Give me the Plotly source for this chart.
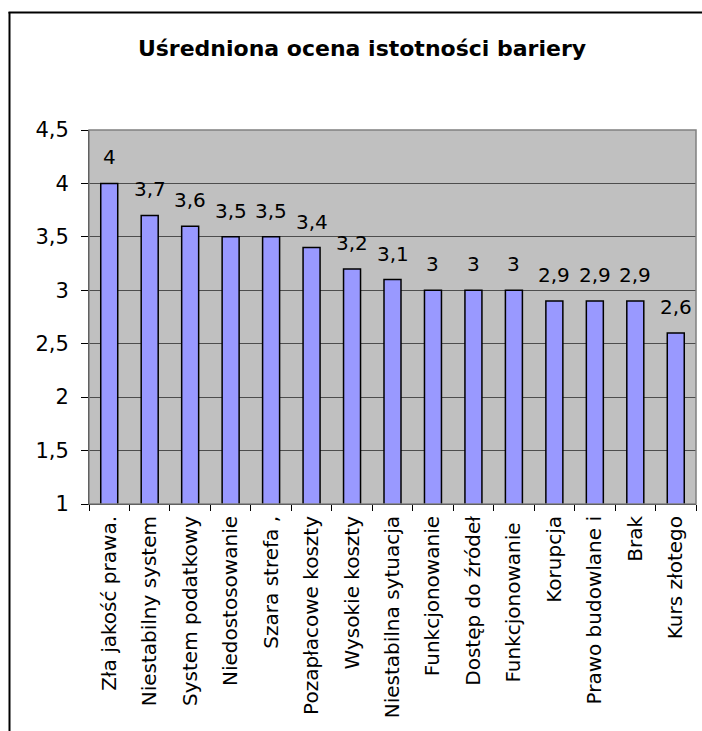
import plotly.graph_objects as go

categories = [
    "Zła jakość prawa.", "Niestabilny system", "System podatkowy", "Niedostosowanie",
    "Szara strefa ,", "Pozapłacowe koszty", "Wysokie koszty", "Niestabilna sytuacja",
    "Funkcjonowanie", "Dostęp do źródeł", "Funkcjonowanie ", "Korupcja",
    "Prawo budowlane i", "Brak", "Kurs złotego",
]
values = [4, 3.7, 3.6, 3.5, 3.5, 3.4, 3.2, 3.1, 3, 3, 3, 2.9, 2.9, 2.9, 2.6]
value_labels = [f"{v:g}".replace(".", ",") for v in values]
title_text = "Uśredniona ocena istotności bariery"

W, H = 702, 731
ML, MR, MT, MB = 89, 6, 130, 227
PW, PH = W - ML - MR, H - MT - MB

def px_x(px):
    return (px - ML) / PW

def px_y(py):
    return (H - MB - py) / PH

FONT = "DejaVu Sans"

fig = go.Figure(go.Bar(
    x=categories, y=values,
    marker=dict(color="#9999FF", line=dict(color="black", width=1.5)),
))

for c, v, t in zip(categories, values, value_labels):
    fig.add_annotation(x=c, y=v, text=t, showarrow=False, yanchor="middle",
                       yshift=26, font=dict(family=FONT, size=20, color="black"))

shapes = [
    dict(type="line", xref="paper", yref="paper", x0=px_x(9.5), x1=px_x(9.5),
         y0=px_y(12), y1=px_y(H + 5), line=dict(color="black", width=2)),
    dict(type="line", xref="paper", yref="paper", x0=px_x(8.5), x1=px_x(W + 5),
         y0=px_y(12.5), y1=px_y(12.5), line=dict(color="black", width=2)),
    dict(type="rect", xref="paper", yref="paper", x0=0, x1=1, y0=0, y1=1,
         line=dict(color="#808080", width=1.5), layer="above"),
]

fig.update_layout(
    width=W, height=H,
    margin=dict(l=ML, r=MR, t=MT, b=MB, pad=0),
    paper_bgcolor="white", plot_bgcolor="#C0C0C0",
    separators=", ",
    bargap=0.58,
    showlegend=False,
    font=dict(family=FONT, color="black"),
    title=dict(text="<b>" + title_text + "</b>", x=362 / W, xanchor="center",
               xref="container", yref="container", y=1 - 48 / H, yanchor="middle",
               font=dict(family=FONT, size=22, color="black")),
    shapes=shapes,
)
fig.update_yaxes(range=[1, 4.5], dtick=0.5, tick0=1, showgrid=True,
                 gridcolor="#4d4d4d", gridwidth=1, zeroline=False,
                 showline=True, linecolor="black", linewidth=1,
                 ticks="outside", ticklen=7, tickcolor="black",
                 ticklabelstandoff=8,
                 tickfont=dict(family=FONT, size=21, color="black"))
fig.update_xaxes(type="category", tickson="boundaries", showgrid=False,
                 showline=True, linecolor="black", linewidth=1,
                 ticks="outside", ticklen=6, tickcolor="black",
                 tickangle=-90, ticklabelstandoff=3,
                 tickfont=dict(family=FONT, size=20, color="black"))

fig.write_html("out.html", config={"displayModeBar": False},
               post_script="document.body.style.margin='0';document.body.style.overflow='hidden';")
